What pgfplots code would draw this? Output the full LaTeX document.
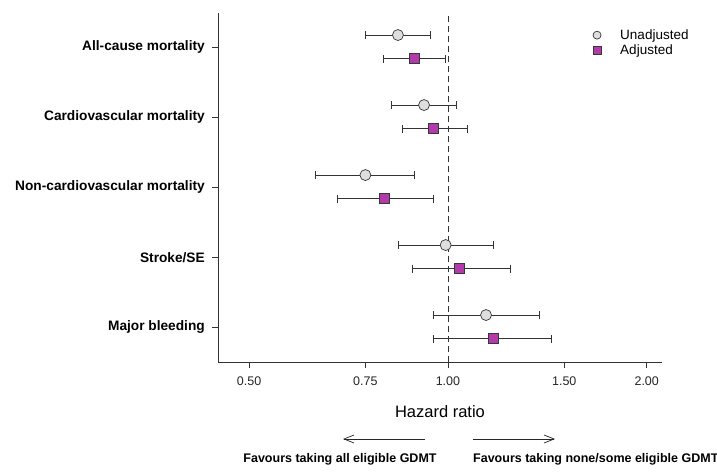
\documentclass[border=0pt]{standalone}
\usepackage{pgfplots}
\pgfplotsset{compat=1.18}
\usepackage{fontspec}
\setmainfont{Liberation Sans}
\usetikzlibrary{arrows.meta}
\definecolor{adjpurple}{RGB}{178,58,170}
\definecolor{unadjgray}{RGB}{222,222,222}
\definecolor{mk}{RGB}{55,55,55}
\begin{document}
\begin{tikzpicture}[x=1pt,y=1pt]
\useasboundingbox (0,0) rectangle (717,471);
\begin{axis}[
  at={(218.3pt,108.7pt)}, anchor=south west,
  scale only axis, width=443.4pt, height=349.3pt,
  xmode=log, xmin=0.449, xmax=2.107, ymin=0.5, ymax=5.49,
  axis x line*=bottom, axis y line*=left,
  axis line style={-, line width=0.8pt, black!80},
  tick align=outside, major tick length=6pt,
  tick style={line width=0.8pt, black!80},
  xtick={0.5,0.75,1,1.5,2}, xticklabels={0.50,0.75,1.00,1.50,2.00},
  minor xtick={},
  ytick={1,2,3,4,5},
  yticklabels={Major bleeding,Stroke/SE,Non-cardiovascular mortality,Cardiovascular mortality,All-cause mortality},
  x tick label style={font=\fontsize{12.5}{15}\selectfont, text=black!85, yshift=-5pt},
  y tick label style={font=\bfseries\fontsize{13.7}{16}\selectfont, xshift=-4pt},
  /pgf/number format/assume math mode=true,
  xlabel={Hazard ratio},
  xlabel style={font=\fontsize{16.5}{19}\selectfont, at={(axis description cs:0.5,-0.14)}, anchor=center},
  clip=false,
  legend style={draw=none, fill=none, at={(rel axis cs:0.842,0.959)}, anchor=north west,
    font=\fontsize{13.5}{16}\selectfont, inner sep=0pt, row sep=0pt},
  legend cell align=left,
  legend image code/.code={\path (-5pt,0pt) (21pt,0pt); \draw[#1, mark size=4pt] plot coordinates {(0pt,0pt)};},
  ci/.style={line width=0.8pt, black!80, mark=|, mark size=4pt, mark options={solid, line width=0.8pt}, forget plot},
]
\addplot[black!80, dash pattern=on 6pt off 4pt, line width=0.8pt, forget plot] coordinates {(1,0.5) (1,5.49)};
% confidence intervals: unadjusted (y+0.175), adjusted (y-0.165)
\addplot[ci] coordinates {(0.750,5.175) (0.939,5.175)};
\addplot[ci] coordinates {(0.799,4.835) (0.991,4.835)};
\addplot[ci] coordinates {(0.820,4.175) (1.031,4.175)};
\addplot[ci] coordinates {(0.852,3.835) (1.069,3.835)};
\addplot[ci] coordinates {(0.630,3.175) (0.891,3.175)};
\addplot[ci] coordinates {(0.681,2.835) (0.949,2.835)};
\addplot[ci] coordinates {(0.841,2.175) (1.171,2.175)};
\addplot[ci] coordinates {(0.882,1.835) (1.244,1.835)};
\addplot[ci] coordinates {(0.949,1.175) (1.374,1.175)};
\addplot[ci] coordinates {(0.949,0.835) (1.436,0.835)};
% point estimates
\addplot[only marks, mark=*, mark size=5.5pt, mark options={fill=unadjgray, draw=mk, line width=0.7pt}]
  coordinates {(0.840,5.175) (0.920,4.175) (0.750,3.175) (0.992,2.175) (1.142,1.175)};
\addlegendentry{Unadjusted}
\addplot[only marks, mark=square*, mark size=5pt, mark options={fill=adjpurple, draw=mk, line width=0.7pt}]
  coordinates {(0.890,4.835) (0.952,3.835) (0.801,2.835) (1.042,1.835) (1.173,0.835)};
\addlegendentry{Adjusted}
\end{axis}
\draw[line width=0.7pt, black!85, -{Straight Barb[length=10pt,width=8pt]}] (425,32) -- (343,32);
\draw[line width=0.7pt, black!85, -{Straight Barb[length=10pt,width=8pt]}] (473,32) -- (555,32);
\node[font=\bfseries\fontsize{12.5}{14}\selectfont, anchor=base, inner sep=0pt] at (340,9) {Favours taking all eligible GDMT};
\node[font=\bfseries\fontsize{12.5}{14}\selectfont, anchor=base west, inner sep=0pt] at (473,9) {Favours taking none/some eligible GDMT};
\end{tikzpicture}
\end{document}
